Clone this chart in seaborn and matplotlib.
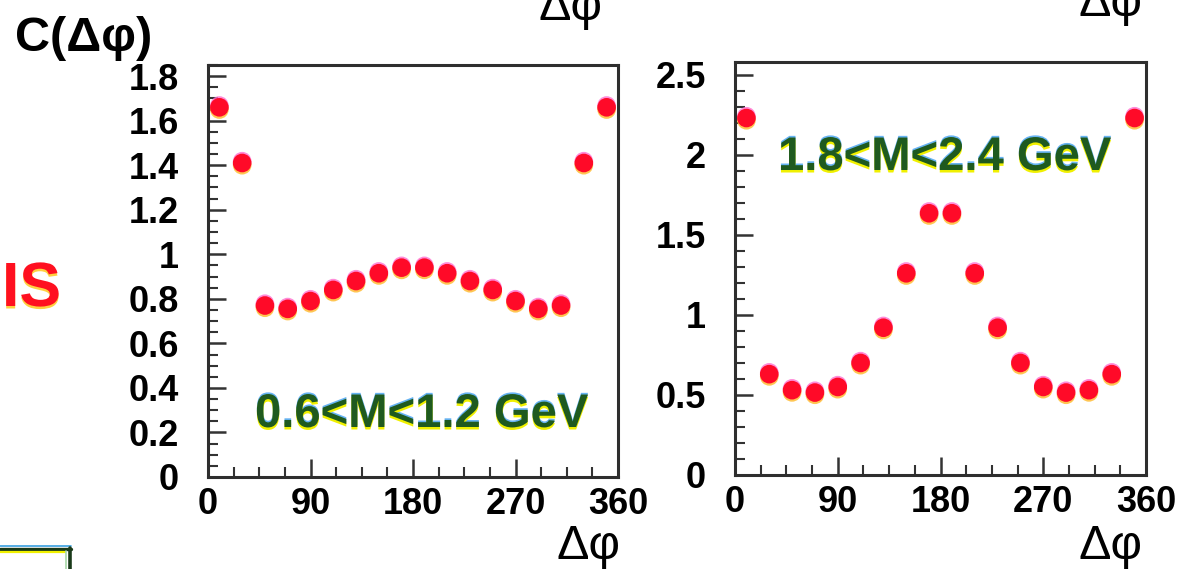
import matplotlib
matplotlib.use("Agg")
import matplotlib.pyplot as plt
import matplotlib.patheffects as pe
from matplotlib.ticker import MultipleLocator, FixedLocator, FuncFormatter
from matplotlib.lines import Line2D
import pandas as pd
import seaborn as sns

# ---------------- data ----------------
dphi = [10, 30, 50, 70, 90, 110, 130, 150, 170, 190, 210, 230, 250, 270, 290, 310, 330, 350]
c_low = [1.66, 1.41, 0.77, 0.755, 0.79, 0.84, 0.88, 0.915, 0.94,
         0.94, 0.915, 0.88, 0.84, 0.79, 0.755, 0.77, 1.41, 1.66]
c_high = [2.23, 0.63, 0.53, 0.515, 0.55, 0.70, 0.92, 1.26, 1.635,
          1.635, 1.26, 0.92, 0.70, 0.55, 0.515, 0.53, 0.63, 2.23]
x_ticks = [0, 90, 180, 270, 360]
y_ticks_low = [0, 0.2, 0.4, 0.6, 0.8, 1.0, 1.2, 1.4, 1.6, 1.8]
y_ticks_high = [0, 0.5, 1.0, 1.5, 2.0, 2.5]
mass_labels = ["0.6<M<1.2 GeV", "1.8<M<2.4 GeV"]
y_title = "C(Δφ)"
x_title = "Δφ"

W, H = 1180, 569

sns.set_theme(style="white")
plt.rcParams["font.family"] = ["Liberation Sans", "DejaVu Sans"]

fig = plt.figure(figsize=(W / 100, H / 100), dpi=100)
fig.patch.set_facecolor("white")


def px(x, y):
    return x / W, 1 - y / H


ax1 = fig.add_axes([208 / W, 1 - 477 / H, 410 / W, 412 / H])
ax2 = fig.add_axes([735 / W, 1 - 475 / H, 411 / W, 413 / H])

df_low = pd.DataFrame({"dphi": dphi, "C": c_low})
df_high = pd.DataFrame({"dphi": dphi, "C": c_high})

marker_fx = [
    pe.SimplePatchShadow(offset=(0, 1.3), shadow_rgbFace="#ff70d0", alpha=0.8),
    pe.SimplePatchShadow(offset=(0, -1.6), shadow_rgbFace="#ffc040", alpha=0.9),
    pe.Normal(),
]

for ax, df, yt, ymax, minor in [
    (ax1, df_low, y_ticks_low, 1.85, 0.05),
    (ax2, df_high, y_ticks_high, 2.58, 0.1),
]:
    sns.scatterplot(data=df, x="dphi", y="C", ax=ax, s=180, color="#ff0a28",
                    edgecolor="none", linewidth=0, legend=False, zorder=5,
                    clip_on=False)
    for coll in ax.collections:
        coll.set_path_effects(marker_fx)
    ax.set_xlim(0, 360)
    ax.set_ylim(0, ymax)
    ax.xaxis.set_major_locator(FixedLocator(x_ticks))
    ax.xaxis.set_minor_locator(MultipleLocator(22.5))
    ax.yaxis.set_major_locator(FixedLocator(yt))
    ax.yaxis.set_minor_locator(MultipleLocator(minor))
    ax.yaxis.set_major_formatter(FuncFormatter(lambda v, p: f"{v:g}"))
    ax.xaxis.set_major_formatter(FuncFormatter(lambda v, p: f"{v:g}"))
    ax.tick_params(axis="both", which="both", direction="in", colors="#333333",
                   labelcolor="black", top=False, right=False,
                   bottom=True, left=True)
    ax.tick_params(axis="both", which="major", length=13, width=1.8,
                   labelsize=26)
    ax.tick_params(axis="both", which="minor", length=7, width=1.5)
    ax.tick_params(axis="y", which="major", pad=21)
    ax.tick_params(axis="x", which="major", pad=7)
    for lab in ax.get_xticklabels() + ax.get_yticklabels():
        lab.set_fontweight("bold")
    for s in ax.spines.values():
        s.set_visible(True)
        s.set_color("#2e2e2e")
        s.set_linewidth(2.2)
    ax.set_xlabel("")
    ax.set_ylabel("")
    ax.set_facecolor("white")

text_fx = [
    pe.SimplePatchShadow(offset=(0, 1.2), shadow_rgbFace="#40a0f0", alpha=0.8),
    pe.SimplePatchShadow(offset=(0, -1.8), shadow_rgbFace="#f0f000", alpha=1.0),
    pe.Normal(),
]

# mass-window labels
fig.text(*px(255, 427), mass_labels[0], ha="left", va="baseline", fontsize=34,
         fontweight="bold", color="#1f5a1f", path_effects=text_fx)
fig.text(*px(778, 170), mass_labels[1], ha="left", va="baseline", fontsize=34,
         fontweight="bold", color="#1f5a1f", path_effects=text_fx)

# axis titles (ROOT style)
fig.text(*px(15, 51), y_title, ha="left", va="baseline", fontsize=35,
         fontweight="bold", color="black")
fig.text(*px(557, 559), x_title, ha="left", va="baseline", fontsize=35,
         color="black")
fig.text(*px(1079, 559), x_title, ha="left", va="baseline", fontsize=35,
         color="black")
# titles of panels above (cut by the crop)
fig.text(*px(538, 20), x_title, ha="left", va="baseline", fontsize=35,
         color="black")
fig.text(*px(1078, 16), x_title, ha="left", va="baseline", fontsize=35,
         color="black")

# partial red label on the left
fig.text(*px(61, 306), "IS", ha="right", va="baseline", fontsize=45,
         fontweight="bold", color="#ff1020",
         path_effects=[pe.SimplePatchShadow(offset=(0, -1.8), shadow_rgbFace="#ffd040", alpha=1.0),
                       pe.Normal()])

# partial legend box at bottom-left
def fline(x0, y0, x1, y1, color, lw):
    a, b = px(x0, y0)
    c, d = px(x1, y1)
    fig.add_artist(Line2D([a, c], [b, d], color=color, lw=lw, transform=fig.transFigure))

fline(0, 545.5, 71, 545.5, "#3aa0e0", 1.2)
fline(0, 548.5, 71, 548.5, "#1a3a1a", 2.4)
fline(0, 551.5, 65, 551.5, "#f0f000", 1.6)
fline(69.5, 548, 69.5, 572, "#1a3a1a", 2.6)
fline(65.5, 551, 65.5, 572, "#a8d8a8", 1.2)

fig.savefig("out.png", dpi=100, facecolor="white")
